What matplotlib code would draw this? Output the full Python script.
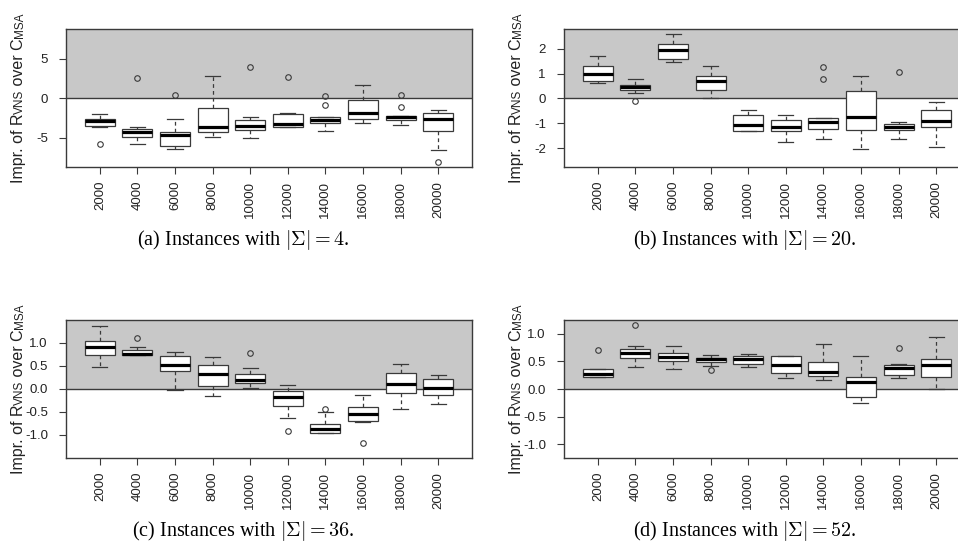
import matplotlib
matplotlib.use("Agg")
import matplotlib.pyplot as plt

plt.rcParams['font.family'] = ['Liberation Sans', 'DejaVu Sans']
plt.rcParams['axes.unicode_minus'] = False
plt.rcParams['mathtext.fontset'] = 'cm'

W, H = 958, 552

sizes = ['2000', '4000', '6000', '8000', '10000', '12000', '14000', '16000', '18000', '20000']

# (a) |Sigma| = 4
a_lo = [-3.6, -5.72, -6.4, -4.87, -5.0, -3.69, -4.11, -3.18, -3.43, -6.53]
a_q1 = [-3.47, -4.92, -6.0, -4.24, -4.07, -3.69, -3.09, -2.63, -2.71, -4.15]
a_med = [-2.84, -4.32, -4.66, -3.64, -3.52, -3.22, -2.75, -1.86, -2.42, -2.63]
a_q3 = [-2.67, -3.9, -4.2, -1.27, -2.71, -2.03, -2.33, -0.25, -2.2, -1.9]
a_hi = [-1.95, -3.6, -2.67, 2.8, -2.33, -1.86, -2.33, 1.74, -2.2, -1.44]
a_out = [[-5.72], [2.63], [0.47], [], [4.03], [2.75], [0.3, -0.85], [], [0.42, -1.1], [-8.1]]

# (b) |Sigma| = 20
b_lo = [0.61, 0.23, 1.48, 0.04, -1.32, -1.74, -1.62, -2.03, -1.62, -1.97]
b_q1 = [0.71, 0.34, 1.6, 0.36, -1.31, -1.31, -1.22, -1.25, -1.27, -1.13]
b_med = [0.98, 0.46, 1.95, 0.69, -1.08, -1.14, -0.96, -0.75, -1.14, -0.92]
b_q3 = [1.31, 0.55, 2.18, 0.89, -0.67, -0.85, -0.77, 0.32, -1.02, -0.48]
b_hi = [1.71, 0.78, 2.6, 1.31, -0.48, -0.67, -0.77, 0.9, -0.93, -0.13]
b_out = [[], [-0.09], [], [], [], [], [1.28, 0.77], [], [1.06], []]

# (c) |Sigma| = 36
c_lo = [0.48, 0.73, -0.03, -0.15, 0.02, -0.63, -0.96, -0.73, -0.44, -0.33]
c_q1 = [0.73, 0.73, 0.38, 0.05, 0.12, -0.38, -0.96, -0.69, -0.1, -0.14]
c_med = [0.9, 0.76, 0.51, 0.33, 0.19, -0.17, -0.88, -0.55, 0.11, 0.01]
c_q3 = [1.04, 0.83, 0.71, 0.51, 0.32, -0.04, -0.77, -0.4, 0.34, 0.21]
c_hi = [1.37, 0.91, 0.8, 0.68, 0.46, 0.08, -0.5, -0.13, 0.53, 0.29]
c_out = [[], [1.09], [], [], [0.78], [-0.91], [-0.44], [-1.17], [], []]

# (d) |Sigma| = 52
d_lo = [0.21, 0.4, 0.37, 0.42, 0.39, 0.2, 0.16, -0.26, 0.2, 0.0]
d_q1 = [0.21, 0.56, 0.51, 0.49, 0.46, 0.29, 0.23, -0.14, 0.25, 0.22]
d_med = [0.28, 0.66, 0.58, 0.54, 0.54, 0.43, 0.31, 0.13, 0.38, 0.43]
d_q3 = [0.36, 0.72, 0.66, 0.57, 0.6, 0.6, 0.49, 0.22, 0.44, 0.54]
d_hi = [0.36, 0.77, 0.77, 0.62, 0.64, 0.6, 0.81, 0.59, 0.46, 0.95]
d_out = [[0.71], [1.16], [], [0.34], [], [], [], [], [0.75], []]

captions = [r'(a) Instances with $|\Sigma| = 4$.', r'(b) Instances with $|\Sigma| = 20$.',
            r'(c) Instances with $|\Sigma| = 36$.', r'(d) Instances with $|\Sigma| = 52$.']
ylims = [(-8.7, 8.8), (-2.76, 2.8), (-1.5, 1.49), (-1.25, 1.25)]
yticks = [[-5, 0, 5], [-2, -1, 0, 1, 2], [-1.0, -0.5, 0.0, 0.5, 1.0], [-1.0, -0.5, 0.0, 0.5, 1.0]]
yfmt = ['%d', '%d', '%.1f', '%.1f']

panels = [(a_lo, a_q1, a_med, a_q3, a_hi, a_out),
          (b_lo, b_q1, b_med, b_q3, b_hi, b_out),
          (c_lo, c_q1, c_med, c_q3, c_hi, c_out),
          (d_lo, d_q1, d_med, d_q3, d_hi, d_out)]

# axes boxes in pixels: left, top
boxes = [(66, 29), (564, 29), (66, 320), (564, 320)]
ax_w, ax_h = 406, 138
cap_pos = [(243, 240), (745, 240), (243, 531), (745, 531)]

edge = '#3a3a3a'
fig = plt.figure(figsize=(W / 100, H / 100), dpi=100)
renderer = fig.canvas.get_renderer()


def piece_width(txt, fs):
    # width of a text piece, spaces included
    t1 = fig.text(0, 0, 'x' + txt + 'x', fontsize=fs)
    t2 = fig.text(0, 0, 'xx', fontsize=fs)
    w = t1.get_window_extent(renderer).width - t2.get_window_extent(renderer).width
    t1.remove()
    t2.remove()
    return w


def ylabel_smallcaps(left, top, fs=11.5):
    pieces = [('Impr. of R', fs), ('VNS', fs * 0.74), (' over C', fs), ('MSA', fs * 0.74)]
    widths = [piece_width(t, s) for t, s in pieces]
    y = H - (top + ax_h / 2) - sum(widths) / 2
    x = left - 43
    for (t, s), w in zip(pieces, widths):
        fig.text(x / W, y / H, t, fontsize=s, rotation=90, rotation_mode='anchor',
                 ha='left', va='baseline', color='#222222')
        y += w


for k, (lo, q1, med, q3, hi, out) in enumerate(panels):
    left, top = boxes[k]
    ax = fig.add_axes([left / W, (H - top - ax_h) / H, ax_w / W, ax_h / H])
    stats = []
    for i in range(len(sizes)):
        stats.append(dict(whislo=lo[i], q1=q1[i], med=med[i], q3=q3[i], whishi=hi[i],
                          fliers=out[i]))
    ax.axhspan(0, ylims[k][1] + 1, color='#c8c8c8', zorder=0, lw=0)
    ax.axhline(0, color=edge, lw=1.0, zorder=1)
    ax.bxp(stats, positions=range(1, 11), widths=0.8, capwidths=0.4, patch_artist=True,
           boxprops=dict(facecolor='white', edgecolor=edge, lw=0.9),
           medianprops=dict(color='black', lw=2.3, solid_capstyle='butt'),
           whiskerprops=dict(color=edge, lw=0.9, linestyle=(0, (3, 2.5))),
           capprops=dict(color=edge, lw=0.9),
           flierprops=dict(marker='o', markersize=4, markerfacecolor='none',
                           markeredgecolor=edge, markeredgewidth=0.8),
           zorder=3)
    ax.set_xlim(0.1, 10.9)
    ax.set_ylim(*ylims[k])
    ax.set_xticks(range(1, 11))
    ax.set_xticklabels(sizes, rotation=90, fontsize=9.5, color='#222222')
    ax.set_yticks(yticks[k])
    ax.set_yticklabels([yfmt[k] % v for v in yticks[k]], fontsize=9.5, color='#222222')
    ax.tick_params(direction='out', length=5, width=0.8, color=edge)
    ax.tick_params(axis='x', pad=5)
    ax.tick_params(axis='y', pad=8)
    for sp in ax.spines.values():
        sp.set_color(edge)
        sp.set_linewidth(1.0)
    ylabel_smallcaps(left, top)
    cx, cy = cap_pos[k]
    fig.text(cx / W, 1 - cy / H, captions[k], ha='center', va='center', fontsize=14.5,
             family='Liberation Serif')

fig.savefig('out.png', dpi=100)
